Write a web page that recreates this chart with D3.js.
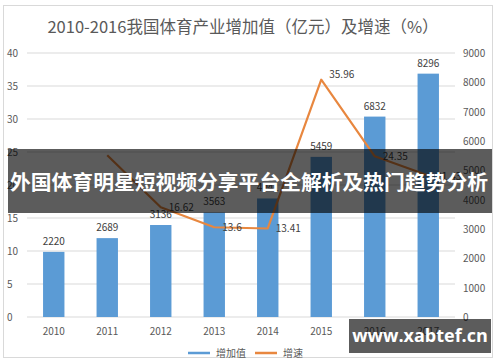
<!DOCTYPE html>
<html><head><meta charset="utf-8">
<script src="https://cdn.jsdelivr.net/npm/d3@7"></script>
<style>body{margin:0;background:#fff}svg{display:block;font-family:"Noto Sans CJK SC","Noto Sans",sans-serif}</style>
</head><body>
<svg id="c" width="500" height="362"></svg>
<script>
const title = "2010-2016我国体育产业增加值（亿元）及增速（%）";
const years = ["2010","2011","2012","2013","2014","2015","2016","2017"];
const values = [2220, 2689, 3136, 3563, 4041, 5459, 6832, 8296];
const growth = [null, 24.5, 16.62, 13.6, 13.41, 35.96, 24.35, 21.43];
const leftTicks = [0,5,10,15,20,25,30,35,40];
const rightTicks = [0,1000,2000,3000,4000,5000,6000,7000,8000,9000];
const legendLabels = ["增加值","增速"];
const overlayText = "外国体育明星短视频分享平台全解析及热门趋势分析";
const siteText = "www.xabtef.cn";

const svg = d3.select("#c");
const blue = "#5b9bd5", orange = "#e8873f", txt = "#595959";

svg.append("rect").attr("x",3.5).attr("y",5.5).attr("width",489).attr("height",352)
  .attr("fill","#fff").attr("stroke","#d9d9d9");

svg.append("text").attr("x",243).attr("y",33).attr("text-anchor","middle")
  .attr("font-size",16.5).attr("fill",txt).text(title);

const x = d3.scaleBand().domain(years).range([27,455]).paddingInner(0.6).paddingOuter(0.3);
const yL = d3.scaleLinear().domain([0,40]).range([317,53]);
const yR = d3.scaleLinear().domain([0,9000]).range([317,53]);

// grid
svg.append("g").selectAll("line").data(leftTicks).join("line")
  .attr("x1",27).attr("x2",455).attr("y1",d=>yL(d)).attr("y2",d=>yL(d))
  .attr("stroke","#d9d9d9").attr("stroke-width",1);

svg.append("g").selectAll("text").data(leftTicks).join("text")
  .attr("x",7).attr("y",d=>yL(d)+4).attr("font-size",10).attr("fill",txt).text(d=>d);
svg.append("g").selectAll("text").data(rightTicks).join("text")
  .attr("x",463).attr("y",d=>yR(d)+4).attr("font-size",10).attr("fill",txt).text(d=>d);
svg.append("g").selectAll("text").data(years).join("text")
  .attr("x",d=>x(d)+x.bandwidth()/2).attr("y",335).attr("text-anchor","middle")
  .attr("font-size",10).attr("fill",txt).text(d=>d);

// bars
svg.append("g").selectAll("rect").data(values).join("rect")
  .attr("x",(d,i)=>x(years[i])).attr("width",x.bandwidth())
  .attr("y",d=>yR(d)).attr("height",d=>yR(0)-yR(d)).attr("fill",blue);
svg.append("g").selectAll("text").data(values).join("text")
  .attr("x",(d,i)=>x(years[i])+x.bandwidth()/2).attr("y",d=>yR(d)-7)
  .attr("text-anchor","middle").attr("font-size",10).attr("fill","#404040").text(d=>d);

// line
const pts = growth.map((g,i)=>g==null?null:[x(years[i])+x.bandwidth()/2, yL(g)]).filter(p=>p);
svg.append("path").attr("d",d3.line().curve(d3.curveLinear)(pts))
  .attr("fill","none").attr("stroke",orange).attr("stroke-width",2.2).attr("stroke-linejoin","round");
const gl = growth.map((g,i)=>({g,i})).filter(d=>d.g!=null && d.i>1);
svg.append("g").selectAll("text").data(gl).join("text")
  .attr("x",d=>x(years[d.i])+x.bandwidth()/2+8).attr("y",d=>yL(d.g)+(d.i===5?-2:4))
  .attr("font-size",10).attr("fill","#404040").text(d=>d.g);

// legend
const lg = svg.append("g");
[[blue,188,legendLabels[0]],[orange,255,legendLabels[1]]].forEach(([c,lx,t])=>{
  lg.append("line").attr("x1",lx).attr("x2",lx+22).attr("y1",353).attr("y2",353).attr("stroke",c).attr("stroke-width",2.5);
  lg.append("text").attr("x",lx+28).attr("y",357).attr("font-size",10).attr("fill",txt).text(t);
});

// overlays
svg.append("rect").attr("x",8).attr("y",149).attr("width",484).attr("height",64).attr("fill","rgba(0,0,0,0.64)");
svg.append("text").attr("x",10).attr("y",190).attr("font-size",20)
  .attr("textLength",478).attr("lengthAdjust","spacingAndGlyphs")
  .attr("font-weight","bold").attr("fill","#fff").text(overlayText);
svg.append("rect").attr("x",349).attr("y",319).attr("width",142).attr("height",34).attr("fill","rgba(0,0,0,0.64)");
svg.append("text").attr("x",420).attr("y",342).attr("text-anchor","middle").attr("font-size",18)
  .attr("font-weight","bold").attr("fill","#fff").attr("font-family","'Open Sans',sans-serif").text(siteText);
</script>
</body></html>
